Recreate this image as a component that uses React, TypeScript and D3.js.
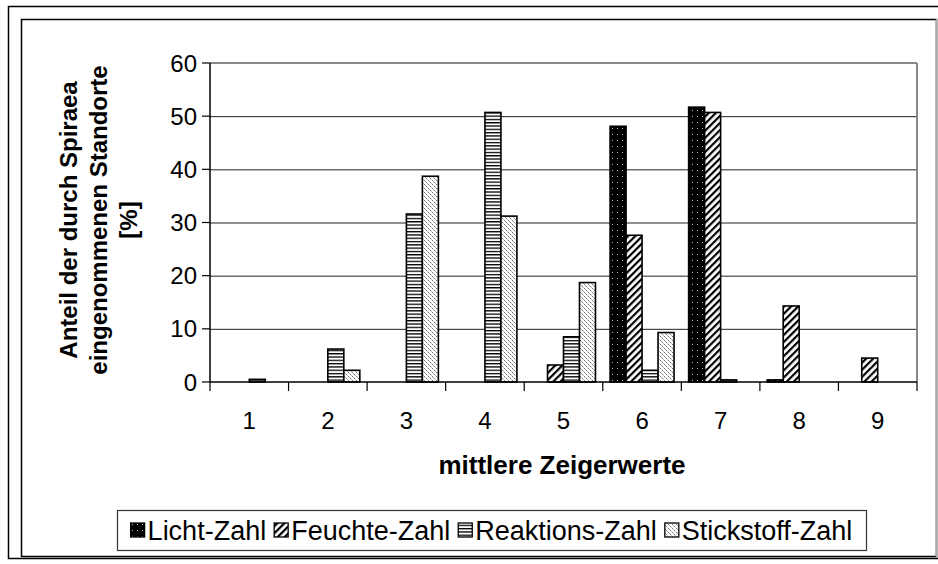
import React from "react";
import * as d3 from "d3";

const categories = ["1", "2", "3", "4", "5", "6", "7", "8", "9"];
const seriesNames = ["Licht-Zahl", "Feuchte-Zahl", "Reaktions-Zahl", "Stickstoff-Zahl"];
const lichtZahl = [0, 0, 0, 0, 0, 48.1, 51.7, 0.4, 0];
const feuchteZahl = [0, 0, 0, 0, 3.2, 27.6, 50.7, 14.3, 4.5];
const reaktionsZahl = [0.5, 6.2, 31.6, 50.7, 8.5, 2.2, 0.4, 0, 0];
const stickstoffZahl = [0, 2.2, 38.7, 31.2, 18.7, 9.3, 0, 0, 0];
const yTicks = [0, 10, 20, 30, 40, 50, 60];
const xTitle = "mittlere Zeigerwerte";
const yTitleLines = ["Anteil der durch Spiraea", "eingenommenen Standorte", "[%]"];

const seriesValues = [lichtZahl, feuchteZahl, reaktionsZahl, stickstoffZahl];
const patternIds = ["pLicht", "pFeuchte", "pReakt", "pStick"];

const FONT = "'Liberation Sans', Arial, sans-serif";

function measure(text: string, font: string): number {
  if (typeof document === "undefined") return text.length * 12;
  const c = document.createElement("canvas");
  const ctx = c.getContext("2d");
  if (!ctx) return text.length * 12;
  ctx.font = font;
  return ctx.measureText(text).width;
}

export default function App() {
  const W = 938, H = 564;
  const plot = { left: 210, right: 917, top: 63, bottom: 382 };
  const x = d3.scaleBand<string>().domain(categories).range([plot.left, plot.right]);
  const bw = x.bandwidth();
  const inner = d3.scaleBand<string>().domain(seriesNames).range([7.3, bw - 7.3]);
  const y = d3.scaleLinear().domain([0, 60]).range([plot.bottom, plot.top]);

  // Legend layout
  const legFontSize = 27;
  const legFont = `${legFontSize}px ${FONT}`;
  const box = { x: 117, y: 510, w: 749, h: 40 };
  const mk = 14, mkGap = 3, itemGap = 8;
  const widths = seriesNames.map((s) => measure(s, legFont));
  const total = widths.reduce((a, b) => a + b, 0) + seriesNames.length * (mk + mkGap) + (seriesNames.length - 1) * itemGap;
  let cursor = box.x + (box.w - total) / 2;
  const legendItems = seriesNames.map((s, i) => {
    const item = { name: s, x: cursor, i };
    cursor += mk + mkGap + widths[i] + itemGap;
    return item;
  });

  return (
    <svg width={W} height={H} style={{ display: "block", position: "absolute", left: 0, top: 0 }}>
      <defs>
        <pattern id="pLicht" width={5} height={6} patternUnits="userSpaceOnUse">
          <rect width={5} height={6} fill="#000" />
          <rect x={2} y={2} width={1} height={1} fill="#bbb" />
        </pattern>
        <pattern id="pFeuchte" width={5} height={5} patternUnits="userSpaceOnUse" patternTransform="rotate(45)">
          <rect width={5} height={5} fill="#fff" />
          <rect width={2.2} height={5} fill="#000" />
        </pattern>
        <pattern id="pReakt" width={4} height={3.3} patternUnits="userSpaceOnUse">
          <rect width={4} height={3.3} fill="#fff" />
          <rect width={4} height={1.3} fill="#000" />
        </pattern>
        <pattern id="pStick" width={4} height={4} patternUnits="userSpaceOnUse">
          <rect width={4} height={4} fill="#fff" />
          <rect x={0} y={0} width={1} height={1} fill="#777" />
          <rect x={1} y={1} width={1} height={1} fill="#aaa" />
          <rect x={2} y={2} width={1} height={1} fill="#777" />
          <rect x={3} y={3} width={1} height={1} fill="#bbb" />
        </pattern>
      </defs>
      <rect x={0} y={0} width={W} height={H} fill="#fff" />
      {/* frames */}
      <rect x={8.5} y={6.5} width={W + 10} height={552} fill="none" stroke="#000" strokeWidth={1.5} />
      <rect x={21.5} y={19.5} width={915} height={537} fill="none" stroke="#000" strokeWidth={1.5} />
      <line x1={936.5} x2={936.5} y1={19} y2={557} stroke="#aaa" strokeWidth={1.5} />

      {/* gridlines */}
      {yTicks.filter((t) => t > 0 && t < 60).map((t) => (
        <line key={t} x1={plot.left} x2={plot.right} y1={y(t) + 0.5} y2={y(t) + 0.5} stroke="#222" strokeWidth={1} />
      ))}
      {/* plot border top/right */}
      <line x1={plot.left} x2={plot.right} y1={plot.top} y2={plot.top} stroke="#888" strokeWidth={2} />
      <line x1={plot.right} x2={plot.right} y1={plot.top} y2={plot.bottom} stroke="#888" strokeWidth={2} />

      {/* bars */}
      {seriesValues.map((vals, si) =>
        vals.map((v, ci) =>
          v > 0 ? (
            <rect
              key={`${si}-${ci}`}
              x={(x(categories[ci]) as number) + (inner(seriesNames[si]) as number)}
              y={y(v)}
              width={inner.bandwidth()}
              height={y(0) - y(v)}
              fill={`url(#${patternIds[si]})`}
              stroke="#000"
              strokeWidth={1.6}
            />
          ) : null
        )
      )}

      {/* axes */}
      <line x1={plot.left} x2={plot.left} y1={plot.top} y2={plot.bottom} stroke="#000" strokeWidth={1.5} />
      <line x1={plot.left} x2={plot.right} y1={plot.bottom} y2={plot.bottom} stroke="#000" strokeWidth={1.5} />
      {yTicks.map((t) => (
        <g key={t}>
          <line x1={plot.left - 8} x2={plot.left} y1={y(t)} y2={y(t)} stroke="#000" strokeWidth={1.2} />
          <text x={197} y={y(t) + 8.5} textAnchor="end" fontFamily={FONT} fontSize={24} fill="#000">
            {t}
          </text>
        </g>
      ))}
      {categories.map((c) => (
        <line key={"t" + c} x1={(x(c) as number)} x2={(x(c) as number)} y1={plot.bottom} y2={plot.bottom + 9} stroke="#000" strokeWidth={1.2} />
      ))}
      <line x1={plot.right} x2={plot.right} y1={plot.bottom} y2={plot.bottom + 9} stroke="#000" strokeWidth={1.2} />
      {categories.map((c) => (
        <text key={"l" + c} x={(x(c) as number) + bw / 2} y={429} textAnchor="middle" fontFamily={FONT} fontSize={24} fill="#000">
          {c}
        </text>
      ))}

      {/* titles */}
      <text x={562} y={474} textAnchor="middle" fontFamily={FONT} fontSize={26} fontWeight="bold" fill="#000">
        {xTitle}
      </text>
      <g transform="translate(0,220) rotate(-90)">
        {yTitleLines.map((l, i) => (
          <text key={i} x={0} y={77 + i * 30} textAnchor="middle" fontFamily={FONT} fontSize={24} fontWeight="bold" fill="#000">
            {l}
          </text>
        ))}
      </g>

      {/* legend */}
      <rect x={box.x + 0.5} y={box.y + 0.5} width={box.w} height={box.h} fill="#fff" stroke="#333" strokeWidth={1.2} />
      {legendItems.map((it) => (
        <g key={it.name}>
          <rect x={it.x} y={box.y + box.h / 2 - mk / 2} width={mk} height={mk} fill={`url(#${patternIds[it.i]})`} stroke="#000" strokeWidth={1.3} />
          <text x={it.x + mk + mkGap} y={box.y + box.h / 2 + 9.5} fontFamily={FONT} fontSize={legFontSize} fill="#000">
            {it.name}
          </text>
        </g>
      ))}
    </svg>
  );
}
